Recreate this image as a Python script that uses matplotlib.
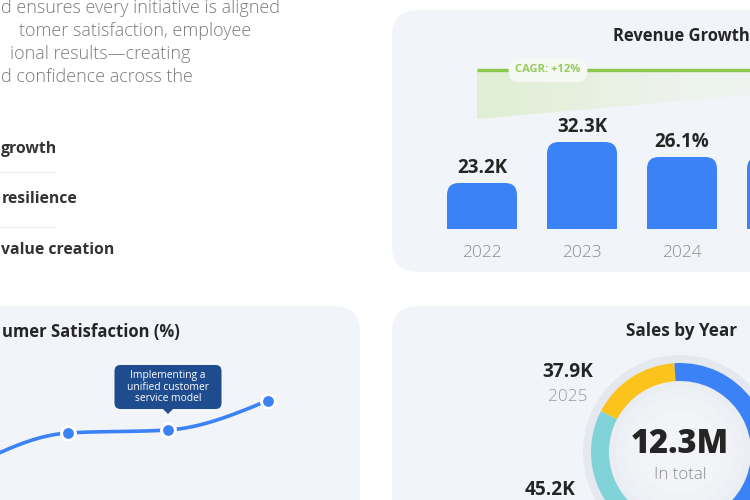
import numpy as np
import matplotlib
matplotlib.use("Agg")
import matplotlib.pyplot as plt
from matplotlib.patches import FancyBboxPatch, Rectangle, Polygon, Circle
from matplotlib.colors import LinearSegmentedColormap

W, H = 750, 500
FONT = ["Open Sans", "DejaVu Sans"]
plt.rcParams["font.family"] = FONT

# ---------------- data (visible parts of the cropped dashboard) ----------------
para_lines = [
    "d ensures every initiative is aligned",
    "tomer satisfaction, employee",
    "ional results\u2014creating",
    "d confidence across the",
]
focus_items = ["growth", "resilience", "value creation"]

rev_years = ["2022", "2023", "2024", "2025"]
rev_heights = [23.0, 43.5, 36.0, 36.0]          # bar heights (chart units)
rev_labels = ["23.2K", "32.3K", "26.1%", ""]
cagr_text = "CAGR: +12%"
cagr_span = [-0.05, 3.95]
cagr_level = 79.5
cagr_band_low = [55.0, 72.6]

sat_periods = ["Q1", "Q2", "Q3", "Q4"]
sat_values = [80.0, 87.0, 87.6, 93.5]
sat_note = "Implementing a\nunified customer\nservice model"
sat_note_index = 2

sales_years = ["2025", "2024", "2023"]
sales_values = [37.9, 45.2, 148.0]
sales_labels = ["37.9K", "45.2K", ""]
sales_total = "12.3M"

# ---------------- style ----------------
PANEL = "#f1f4f8"
BLUE = "#3b82f6"
GREEN = "#8cc84b"
DARK = "#252525"
GRAY = "#8c8c8c"
NAVY = "#1f4c8e"
YELLOW = "#fcc31c"
TEAL = "#80d3d8"


def rect(left, top, w, h):
    return [left / W, 1 - (top + h) / H, w / W, h / H]


fig = plt.figure(figsize=(W / 100, H / 100), dpi=100)
fig.patch.set_facecolor("white")

bg = fig.add_axes([0, 0, 1, 1], zorder=0)
bg.set_xlim(0, W)
bg.set_ylim(H, 0)
bg.axis("off")

# panels
for (x0, y0, w, h) in [(392, 10, 520, 262), (-200, 306, 560, 300), (392, 306, 520, 300)]:
    bg.add_patch(FancyBboxPatch((x0, y0), w, h, boxstyle="round,pad=0,rounding_size=26",
                                fc=PANEL, ec="none"))

# paragraph
para_left = [1, 19, 10, 1]
para_base = [13, 36, 59, 82]
for txt, xl, yb in zip(para_lines, para_left, para_base):
    bg.text(xl, yb, txt, ha="left", va="baseline", fontsize=13.0, color="#7b7b7b",
            fontweight="light")

focus_left = [1, 2, 1]
focus_base = [153, 203, 254]
for txt, xl, yb in zip(focus_items, focus_left, focus_base):
    bg.text(xl, yb, txt, ha="left", va="baseline", fontsize=11.3, color="#333333",
            fontweight="bold")
for ys in [172, 227]:
    bg.plot([0, 55], [ys, ys], color="#eeeeee", lw=1)

# titles
bg.text(613, 41, "Revenue Growth", ha="left", va="baseline", fontsize=11.9,
        fontweight="bold", color=DARK)
bg.text(2, 337, "umer Satisfaction (%)", ha="left", va="baseline", fontsize=12.0,
        fontweight="bold", color=DARK)
bg.text(682, 336, "Sales by Year", ha="center", va="baseline", fontsize=12.3,
        fontweight="bold", color=DARK)

# ---------------- Revenue bar chart ----------------
axb = fig.add_axes(rect(432, 29, 400, 200), zorder=2)
axb.set_xlim(-0.5, 3.5)
axb.set_ylim(0, 100)
axb.axis("off")
axb.patch.set_alpha(0)

# CAGR band with fading gradient
band = Polygon([(cagr_span[0], cagr_level), (cagr_span[1], cagr_level),
                (cagr_span[1], cagr_band_low[1]), (cagr_span[0], cagr_band_low[0])],
               closed=True, fc="none", ec="none")
axb.add_patch(band)
cm = LinearSegmentedColormap.from_list("g", ["#e0eed3", "#edf3ec", PANEL])
grad = np.linspace(0, 1, 256).reshape(1, -1)
im = axb.imshow(grad, extent=[cagr_span[0], cagr_span[1], min(cagr_band_low), cagr_level],
                aspect="auto", cmap=cm, zorder=1, interpolation="bilinear")
im.set_clip_path(band)
axb.plot(cagr_span, [cagr_level, cagr_level], color=GREEN, lw=2.4, zorder=2,
         solid_capstyle="butt")
axb.text(0.66, cagr_level, cagr_text, ha="center", va="center", fontsize=8,
         fontweight="bold", color="#94cc5c", zorder=3,
         bbox=dict(boxstyle="round,pad=0.6,rounding_size=0.9", fc="#f6f8f4", ec="none"))

bars = axb.bar(range(len(rev_heights)), rev_heights, width=0.7, color="none")
p0 = axb.transData.transform((0, 0))
p1 = axb.transData.transform((1, 1))
px_x, px_y = p1[0] - p0[0], p1[1] - p0[1]
r_x = 12 / px_x
asp = px_x / px_y
for b in bars:
    x, w, h = b.get_x(), b.get_width(), b.get_height()
    b.set_visible(False)
    axb.add_patch(FancyBboxPatch((x, 0), w, h, boxstyle=f"round,pad=0,rounding_size={r_x}",
                                 mutation_aspect=asp, fc=BLUE, ec="none", zorder=3))
    axb.add_patch(Rectangle((x, 0), w, h - r_x * asp, fc=BLUE, ec="none", zorder=3))
for i, (h, lab, yr) in enumerate(zip(rev_heights, rev_labels, rev_years)):
    # only label bars whose centre lies inside the visible canvas
    if axb.transData.transform((i, 0))[0] > W - 20:
        continue
    axb.annotate(lab, (i, h), xytext=(0, 10), textcoords="offset pixels", ha="center",
                 va="baseline", fontsize=13.5, fontweight="bold", color=DARK)
    axb.annotate(yr, (i, 0), xytext=(0, -28), textcoords="offset pixels", ha="center",
                 va="baseline", fontsize=12.5, color=GRAY, fontweight="light")
axb.set_xlim(-0.5, 3.5)
axb.set_ylim(0, 100)

# ---------------- Customer satisfaction line ----------------
axl = fig.add_axes(rect(-82, 350, 400, 150), zorder=2)
axl.set_xlim(-0.5, 3.5)
axl.set_ylim(73.6, 103.6)
axl.axis("off")
axl.patch.set_alpha(0)


def monotone(xs, ys, n=40):
    xs = np.asarray(xs, float)
    ys = np.asarray(ys, float)
    h = np.diff(xs)
    s = np.diff(ys) / h
    m = np.zeros_like(ys)
    for i in range(1, len(xs) - 1):
        p = (s[i - 1] * h[i] + s[i] * h[i - 1]) / (h[i - 1] + h[i])
        m[i] = (np.sign(s[i - 1]) + np.sign(s[i])) * min(abs(s[i - 1]), abs(s[i]), 0.5 * abs(p))
    m[0] = (3 * s[0] - m[1]) / 2
    m[-1] = (3 * s[-1] - m[-2]) / 2
    X, Y = [], []
    for i in range(len(xs) - 1):
        t = np.linspace(0, 1, n)
        h00 = 2 * t**3 - 3 * t**2 + 1
        h10 = t**3 - 2 * t**2 + t
        h01 = -2 * t**3 + 3 * t**2
        h11 = t**3 - t**2
        X.append(xs[i] + t * h[i])
        Y.append(h00 * ys[i] + h10 * h[i] * m[i] + h01 * ys[i + 1] + h11 * h[i] * m[i + 1])
    return np.concatenate(X), np.concatenate(Y)


xi = np.arange(len(sat_values))
cx, cy = monotone(xi, sat_values)
axl.plot(cx, cy, color=BLUE, lw=2.6, zorder=2, solid_capstyle="round")
axl.plot(xi, sat_values, "o", ms=12.5, color="#000000", alpha=0.06, zorder=3, mew=0)
axl.plot(xi, sat_values, "o", ms=10, mfc=BLUE, mec="white", mew=2.2, zorder=4)

# annotation box above chosen point
pt = axl.transData.transform((sat_note_index, sat_values[sat_note_index]))
bx, by = bg.transData.inverted().transform(pt)
bw, bh = 107, 44
btop = by - 21 - bh
bg.add_patch(FancyBboxPatch((bx - bw / 2, btop), bw, bh,
                            boxstyle="round,pad=0,rounding_size=6", fc=NAVY, ec="none",
                            zorder=5))
bg.add_patch(Polygon([(bx - 5, btop + bh), (bx + 5, btop + bh), (bx, btop + bh + 5)],
                     closed=True, fc=NAVY, ec="none", zorder=5))
bg.text(bx, btop + bh / 2, sat_note, ha="center", va="center", fontsize=7.4, color="white",
        linespacing=1.1, zorder=6)

# ---------------- Sales donut ----------------
axd = fig.add_axes(rect(570, 342, 220, 220), zorder=2)
axd.set_xlim(-110, 110)
axd.set_ylim(-110, 110)
axd.set_aspect("equal")
axd.axis("off")
axd.patch.set_alpha(0)
axd.add_patch(Circle((0, 0), 97, fc="#e5e9ef", ec="none", zorder=0))
axd.add_patch(Circle((0, 0), 89, fc="#e9ecf1", ec="none", zorder=0))
for r, c in [(71, "#eaedf2"), (64, "#edf0f4"), (55, "#f0f2f6"), (42, "#f2f4f8")]:
    axd.add_patch(Circle((0, 0), r, fc=c, ec="none", zorder=1))
wedges, _ = axd.pie(sales_values, radius=89, startangle=93.6, counterclock=True,
                    colors=[YELLOW, TEAL, BLUE],
                    wedgeprops=dict(width=18, edgecolor="none"))
axd.set_xlim(-110, 110)
axd.set_ylim(-110, 110)
axd.text(0, 8, sales_total, ha="center", va="center", fontsize=23.5, fontweight="heavy",
         color=DARK)
axd.text(0, -23, "In total", ha="center", va="center", fontsize=12.2, color=GRAY,
         fontweight="light")

bg.text(568, 377, sales_labels[0], ha="center", va="baseline", fontsize=13.8,
        fontweight="bold", color=DARK)
bg.text(568, 401, sales_years[0], ha="center", va="baseline", fontsize=12.3, color="#9a9a9a",
        fontweight="light")
bg.text(550, 495, sales_labels[1], ha="center", va="baseline", fontsize=13.8,
        fontweight="bold", color=DARK)

fig.savefig("out.png", dpi=100, facecolor="white")
